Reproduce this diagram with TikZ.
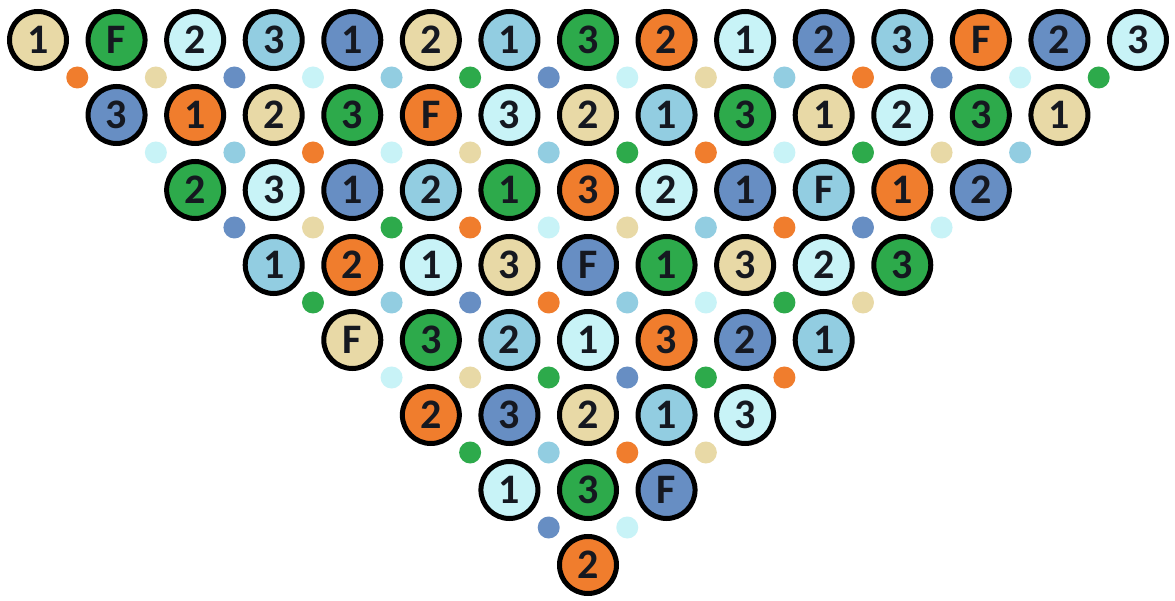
\documentclass[tikz,border=0pt]{standalone}
\usepackage{fontspec}
\setmainfont{Carlito}
\definecolor{cT}{HTML}{E8D9A6}
\definecolor{cG}{HTML}{2DAA4B}
\definecolor{cC}{HTML}{C8F3F7}
\definecolor{cL}{HTML}{92CDE1}
\definecolor{cB}{HTML}{678EC3}
\definecolor{cO}{HTML}{F07D2D}
\definecolor{dC}{HTML}{B0F0F6}
\definecolor{ink}{HTML}{151820}
\newcommand{\ballfont}{\fontsize{42pt}{42pt}\selectfont\bfseries}
\begin{document}
\begin{tikzpicture}[x=1pt,y=-1pt,
  ball/.style={circle,draw=black,line width=5pt,minimum size=57pt,inner sep=0pt,
    text=ink},
  gem/.style={circle,inner sep=0pt,minimum size=22pt}]
\useasboundingbox (0,0) rectangle (1175,601);
\fill[white] (0,0) rectangle (1175,601);
% circles, row by row
\foreach \r/\data in {
  1/{T/1,G/F,C/2,L/3,B/1,T/2,L/1,G/3,O/2,C/1,B/2,L/3,O/F,B/2,C/3},
  2/{B/3,O/1,T/2,G/3,O/F,C/3,T/2,L/1,G/3,T/1,C/2,G/3,T/1},
  3/{G/2,C/3,B/1,L/2,G/1,O/3,C/2,B/1,L/F,O/1,B/2},
  4/{L/1,O/2,C/1,T/3,B/F,G/1,T/3,C/2,G/3},
  5/{T/F,G/3,L/2,C/1,O/3,B/2,L/1},
  6/{O/2,B/3,T/2,L/1,C/3},
  7/{C/1,G/3,B/F},
  8/{O/2}}{
  \foreach [count=\i from 0] \c/\t in \data {
    \node[ball,fill=c\c] (b-\r-\i) at ({38+78.57*(\r-1+\i)},{40+75*(\r-1)}) {\ballfont\t};
  }
}
% small dots between rows
\foreach \r/\data in {
  1/{O,T,B,C,L,G,B,C,T,L,O,B,C,G},
  2/{C,L,O,C,T,L,G,O,C,G,T,L},
  3/{B,T,G,O,C,T,L,O,B,C},
  4/{G,L,B,O,L,C,G,T},
  5/{C,T,G,B,G,O},
  6/{G,L,O,T},
  7/{B,C}}{
  \foreach [count=\i from 0] \c in \data {
    \ifx\c C
      \node[gem,fill=dC] (d-\r-\i) at ({38+78.57*(\r-0.5+\i)},{77.5+75*(\r-1)}) {};
    \else
      \node[gem,fill=c\c] (d-\r-\i) at ({38+78.57*(\r-0.5+\i)},{77.5+75*(\r-1)}) {};
    \fi
  }
}
\end{tikzpicture}
\end{document}
